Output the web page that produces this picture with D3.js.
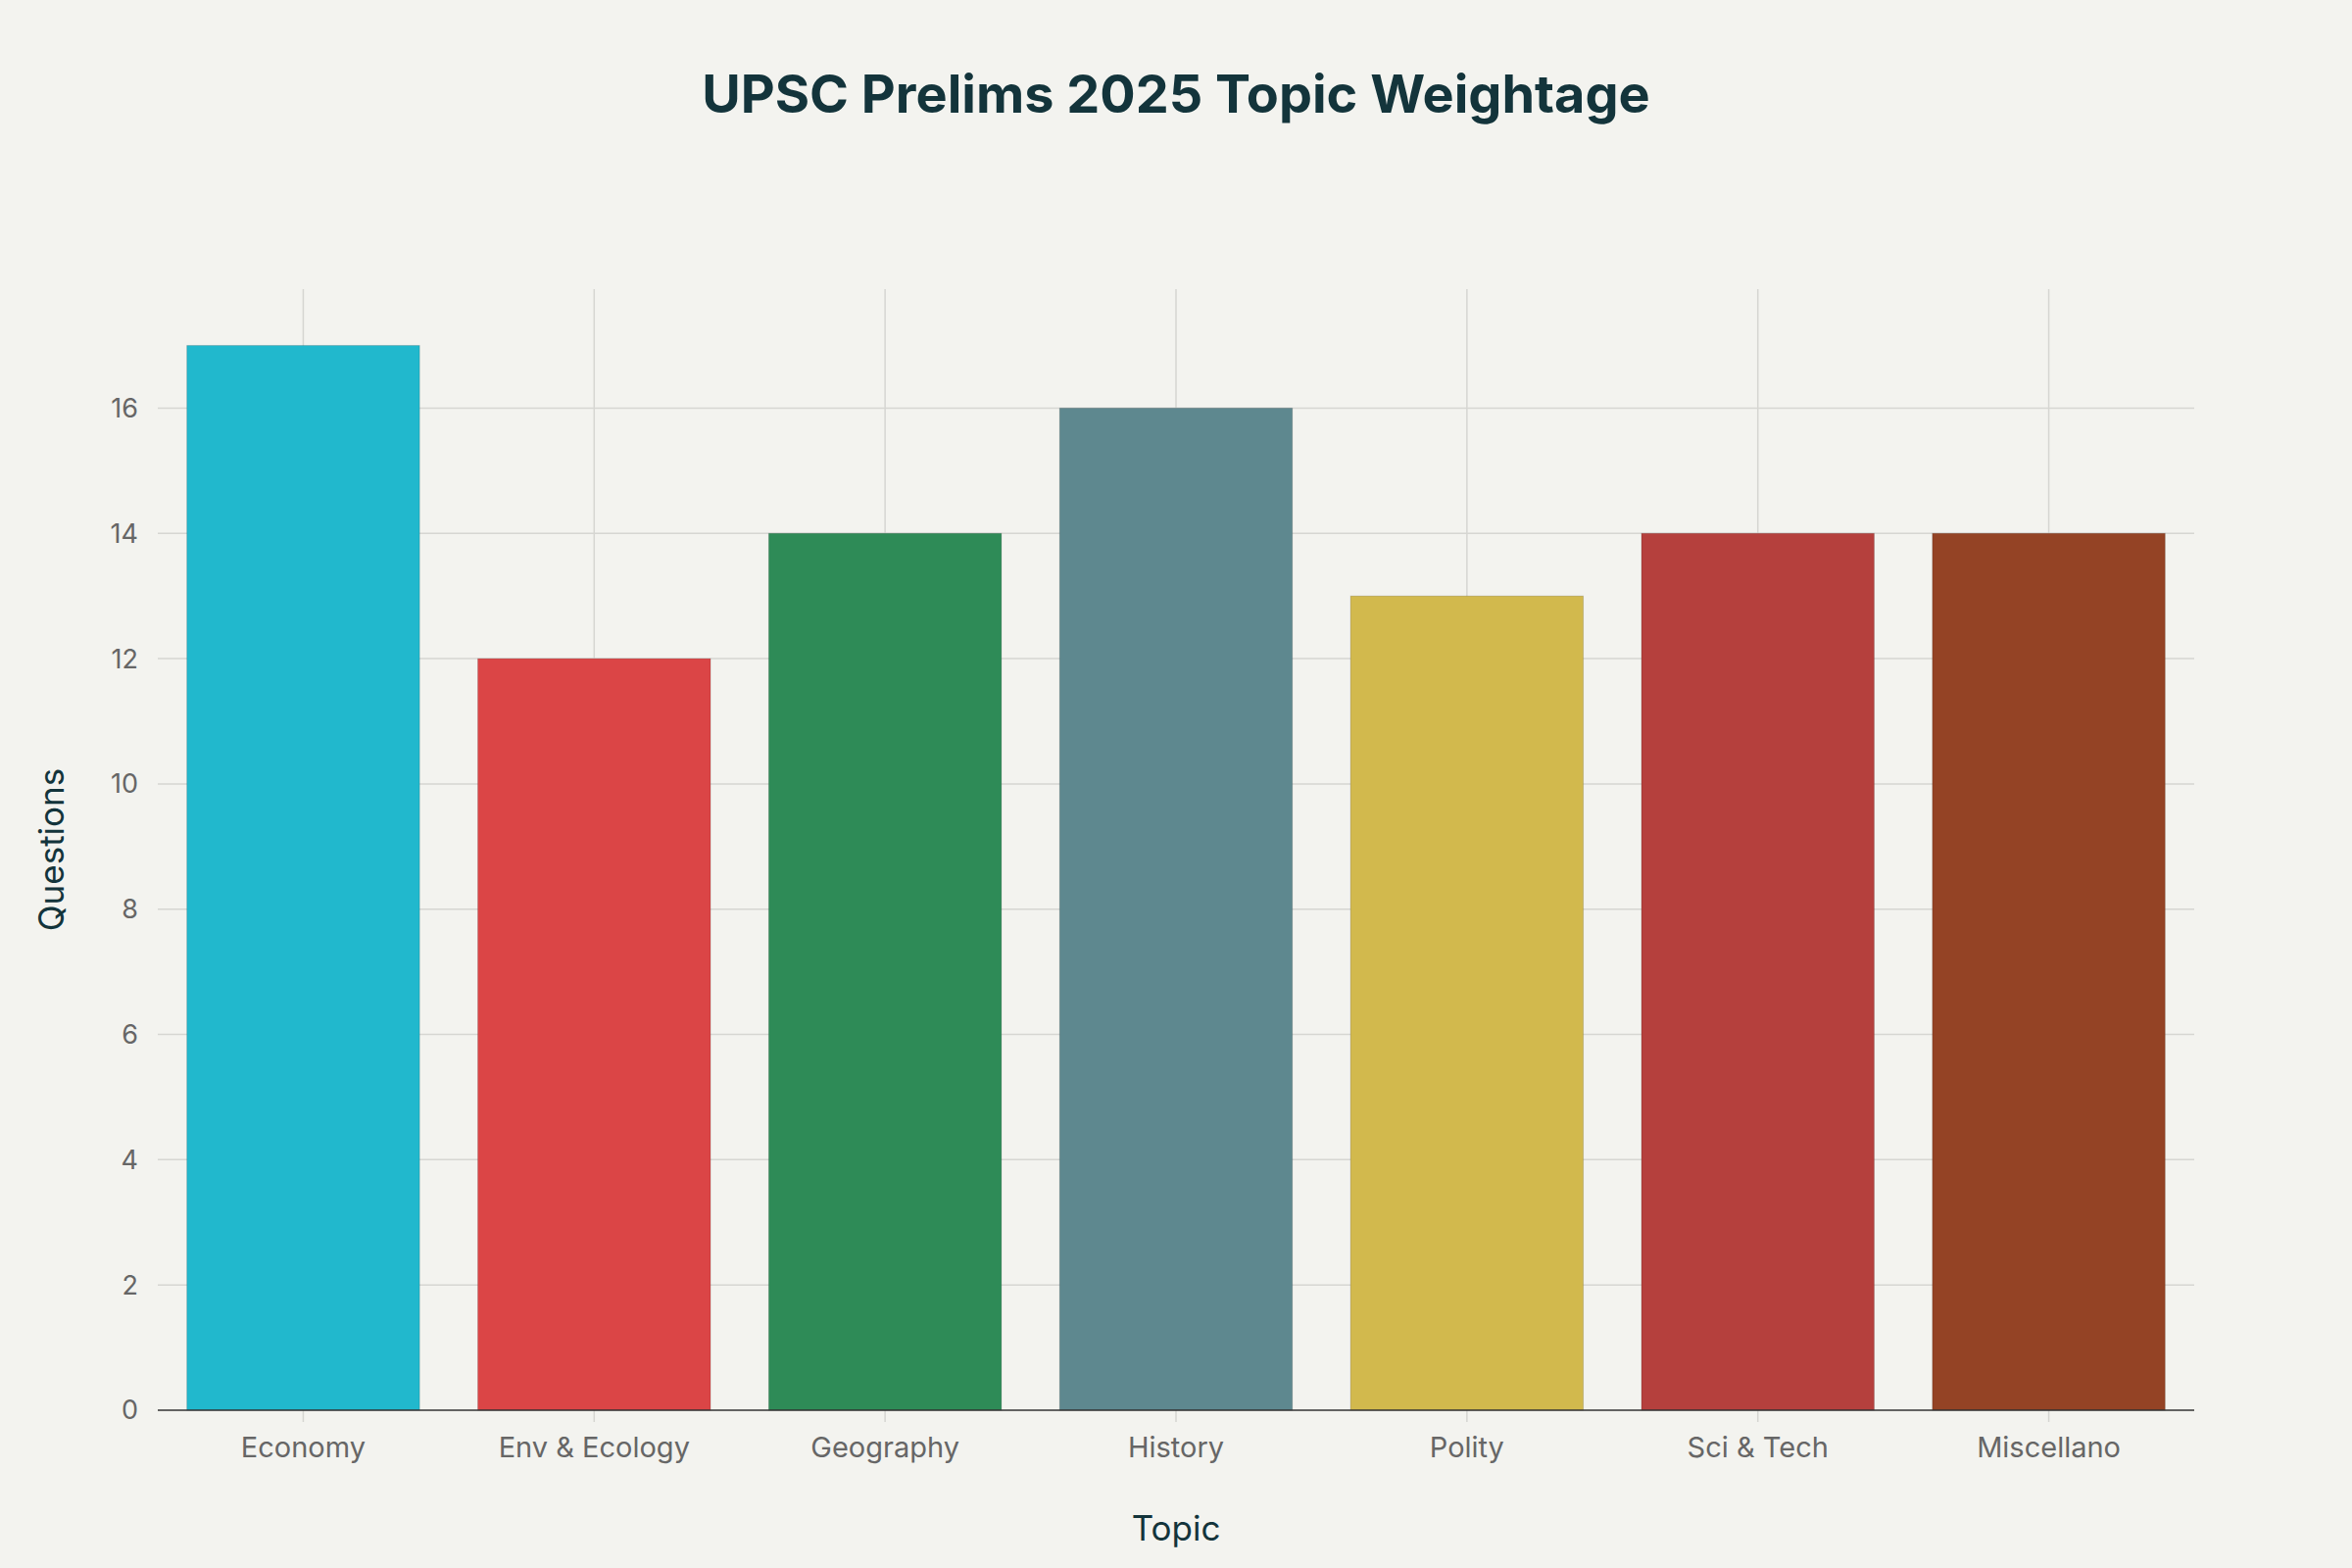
<!DOCTYPE html>
<html><head><meta charset="utf-8">
<script src="https://cdn.jsdelivr.net/npm/d3@7"></script>
<style>body{margin:0;background:#f3f3ef;}svg{display:block;font-family:Inter,"Open Sans",sans-serif;}</style>
</head><body>
<script>
// chart data
const topics = ["Economy","Env & Ecology","Geography","History","Polity","Sci & Tech","Miscellano"];
const questions = [17,12,14,16,13,14,14];
const colors = ["#21b8cd","#db4546","#2e8b57","#5e888f","#d2b94d","#b5403d","#944325"];
const yTicks = [0,2,4,6,8,10,12,14,16];

let width = 2400, height = 1600,
    m = {left:161, right:2400-2239, top:295, bottom:1600-1439};

let svg = d3.select("body").append("svg").attr("width",width).attr("height",height);
svg.append("rect").attr("width",width).attr("height",height).attr("fill","#f3f3ef");

let x = d3.scaleBand().domain(topics).range([m.left,width-m.right]).paddingInner(0.2).paddingOuter(0.1);
let y = d3.scaleLinear().domain([0,17.9]).range([height-m.bottom,m.top]);

// grid
svg.append("g").selectAll("line").data(yTicks.slice(1)).enter().append("line")
  .attr("x1",m.left).attr("x2",width-m.right)
  .attr("y1",d=>y(d)).attr("y2",d=>y(d))
  .attr("stroke","#d6d6d2").attr("stroke-width",1.5);
svg.append("g").selectAll("line").data(topics).enter().append("line")
  .attr("x1",d=>x(d)+x.bandwidth()/2).attr("x2",d=>x(d)+x.bandwidth()/2)
  .attr("y1",m.top).attr("y2",y(0)+12)
  .attr("stroke","#d6d6d2").attr("stroke-width",1.5);

// bars
svg.append("g").selectAll("rect").data(topics).enter().append("rect")
  .attr("x",d=>x(d)).attr("width",x.bandwidth())
  .attr("y",(d,i)=>y(questions[i])).attr("height",(d,i)=>y(0)-y(questions[i]))
  .attr("fill",(d,i)=>colors[i]).attr("stroke","rgba(0,0,0,0.15)").attr("stroke-width",1);

// axes
svg.append("line").attr("x1",m.left).attr("x2",width-m.right)
  .attr("y1",y(0)).attr("y2",y(0)).attr("stroke","#333").attr("stroke-width",1.5);

svg.append("g").selectAll("text").data(yTicks).enter().append("text")
  .attr("x",m.left-20).attr("y",d=>y(d)).attr("dy","0.35em")
  .attr("text-anchor","end").attr("font-size",27).attr("fill","#666").text(d=>d);

svg.append("g").selectAll("text").data(topics).enter().append("text")
  .attr("x",d=>x(d)+x.bandwidth()/2).attr("y",y(0)+48)
  .attr("text-anchor","middle").attr("font-size",29).attr("fill","#666").text(d=>d);

svg.append("text").attr("x",(m.left+width-m.right)/2).attr("y",1572)
  .attr("text-anchor","middle").attr("font-size",35).attr("fill","#13343b").text("Topic");
svg.append("text").attr("transform","translate(65,867) rotate(-90)")
  .attr("text-anchor","middle").attr("font-size",35).attr("fill","#13343b").text("Questions");

svg.append("text").attr("x",1200).attr("y",115)
  .attr("text-anchor","middle").attr("font-size",54).attr("font-weight","bold")
  .attr("fill","#13343b").text("UPSC Prelims 2025 Topic Weightage");
</script>
</body></html>
